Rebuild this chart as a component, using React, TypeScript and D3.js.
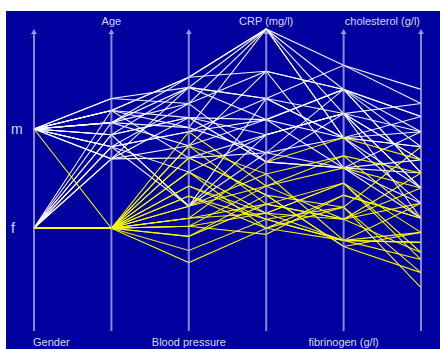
import React from 'react'
import * as d3 from 'd3'

// 维度与标签
const dimensions = ['gender', 'age', 'bloodPressure', 'crp', 'fibrinogen', 'cholesterol']
const dimLabels = ['Gender', 'Age', 'Blood pressure', 'CRP (mg/l)', 'fibrinogen (g/l)', 'cholesterol (g/l)']
const genderCategories = ['m', 'f']

// 每条记录的取值
const gender = [
  'm', 'm', 'm', 'm', 'm', 'm', 'm', 'm', 'm', 'm', 'm', 'm', 'm', 'm', 'm', 'm', 'm', 'm',
  'f', 'f', 'f', 'f', 'f', 'f', 'f', 'f',
  'm', 'f', 'f', 'f', 'f', 'f', 'f', 'f', 'f', 'f', 'f', 'f', 'f', 'f', 'f', 'f', 'f', 'f', 'f', 'f', 'f', 'f', 'f'
]
const age = [
  73, 73, 77, 69, 69, 65, 65, 61, 73, 69, 61, 57, 65, 57, 73, 61, 69, 77,
  73, 69, 65, 61, 57, 65, 61, 57,
  34, 34, 34, 34, 34, 34, 34, 34, 34, 34, 34, 34, 34, 34, 34, 34, 34, 34, 34, 34, 34, 34, 34
]
const bloodPressure = [
  176, 176, 171, 176, 163, 171, 156, 163, 156, 151, 149, 142, 112, 156, 136, 112, 171, 163,
  151, 142, 112, 129, 171, 156, 149, 136,
  149, 142, 136, 129, 122, 117, 112, 106, 102, 97, 90, 84, 106, 112, 102, 117, 97, 122, 129, 136, 142, 106, 102
]
const crp = [
  50, 50, 50, 43, 50, 38.5, 35, 43, 32.5, 29.5, 38.5, 35, 32.5, 28, 29.5, 38.5, 35, 28,
  50, 43, 29.5, 32.5, 38.5, 28, 35, 32.5,
  24, 21, 22.5, 19.5, 18.5, 17, 26, 21, 19.5, 22.5, 18.5, 17, 28, 24, 16, 18.5, 21, 19.5, 17, 22.5, 26, 19.5, 24
]
const fibrinogen = [
  5.0, 4.6, 5.4, 5.0, 4.2, 4.6, 5.0, 3.7, 4.6, 4.2, 5.4, 4.2, 4.6, 3.7, 5.0, 4.2, 3.7, 4.6,
  4.2, 5.0, 3.7, 4.6, 4.2, 3.7, 5.0, 4.6,
  3.9, 3.45, 3.05, 2.85, 2.5, 3.25, 2.5, 2.85, 3.45, 2.4, 3.05, 2.5, 4.2, 3.7, 3.25, 2.5, 2.85, 3.45, 3.05, 2.4, 3.9, 2.5, 2.85
]
const cholesterol = [
  3.13, 3.26, 3.40, 2.98, 2.83, 2.70, 3.13, 2.57, 2.42, 2.98, 3.26, 2.83, 2.70, 2.27, 2.57, 2.42, 2.12, 2.98,
  3.13, 2.83, 2.70, 2.42, 2.27, 2.98, 2.57, 2.12,
  2.57, 1.98, 2.83, 2.42, 2.27, 2.12, 1.88, 1.78, 1.71, 1.58, 1.43, 1.98, 2.70, 2.42, 2.12, 1.88, 2.27, 1.78, 1.58, 1.98, 2.12, 1.71, 2.57
]

const W = 440
const H = 349
const axisTop = 29
const axisBottom = 331

const App: React.FC = () => {
  const x = d3.scalePoint<string>().domain(dimensions).range([34, 421])

  const yScales: Record<string, (v: any) => number> = {
    gender: d3.scalePoint<string>().domain(genderCategories).range([129, 228]) as any,
    age: d3.scaleLinear().domain([0, 100]).range([axisBottom, axisTop]),
    bloodPressure: d3.scaleLinear().domain([50, 200]).range([axisBottom, axisTop]),
    crp: d3.scaleLinear().domain([0, 50]).range([axisBottom, axisTop]),
    fibrinogen: d3.scaleLinear().domain([1, 6]).range([axisBottom, axisTop]),
    cholesterol: d3.scaleLinear().domain([1, 4]).range([axisBottom, axisTop])
  }

  const columns: Record<string, any[]> = { gender, age, bloodPressure, crp, fibrinogen, cholesterol }

  const records = gender.map((_, i) => dimensions.map(d => columns[d][i]))
  const line = d3.line<[number, number]>()

  // 白色先画，黄色（年龄 < 45 选中组）后画
  const order = d3.range(records.length).sort((a, b) => (age[a] < 45 ? 1 : 0) - (age[b] < 45 ? 1 : 0))

  const labelAnchor = (i: number) => (i === 0 ? 'start' : i === dimensions.length - 1 ? 'end' : 'middle')
  const labelDx = (i: number) => (i === 0 ? -1 : i === dimensions.length - 1 ? -1 : 0)

  return (
    <div style={{ position: 'absolute', left: 0, top: 0 }}>
      <svg width={W} height={H} style={{ display: 'block' }}>
        <rect x={0} y={0} width={W} height={H} fill="#ffffff" />
        <rect x={6} y={11} width={W - 6} height={H - 11} fill="#00009e" />

        <g>
          {order.map(i => {
            const pts = dimensions.map((d, j) => [x(d) as number, yScales[d](records[i][j])] as [number, number])
            return (
              <path
                key={i}
                d={line(pts) || ''}
                fill="none"
                stroke={age[i] < 45 ? '#ffff00' : '#ffffff'}
                strokeWidth={1.1}
                strokeOpacity={0.95}
              />
            )
          })}
        </g>

        {dimensions.map((d, i) => {
          const ax = x(d) as number
          return (
            <g key={d}>
              <line x1={ax} x2={ax} y1={axisBottom} y2={axisTop + 4} stroke="#b4b4f0" strokeOpacity={0.75} strokeWidth={2} />
              <path d={`M${ax - 3},${axisTop + 5}L${ax},${axisTop}L${ax + 3},${axisTop + 5}Z`} fill="#b4b4f0" fillOpacity={0.8} />
              <text
                x={ax + labelDx(i)}
                y={i % 2 === 0 ? 346 : 25}
                textAnchor={labelAnchor(i)}
                fontFamily="Liberation Sans, Arial, sans-serif"
                fontSize={11}
                fill="#d8d8f8"
              >
                {dimLabels[i]}
              </text>
            </g>
          )
        })}

        {genderCategories.map(g => (
          <text
            key={g}
            x={11}
            y={yScales.gender(g) + 5}
            fontFamily="Liberation Sans, Arial, sans-serif"
            fontSize={14}
            fill="#d8d8f8"
          >
            {g}
          </text>
        ))}
      </svg>
    </div>
  )
}

export default App
